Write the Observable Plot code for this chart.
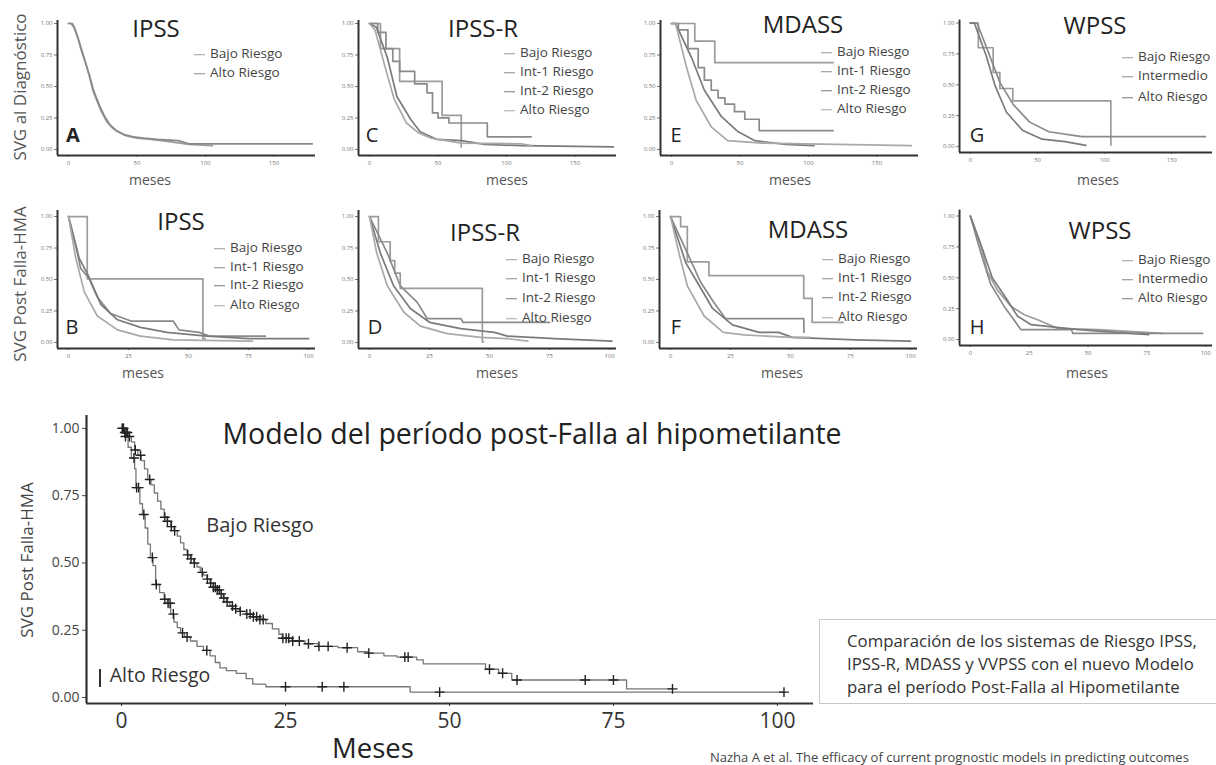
<!DOCTYPE html>
<html><head><meta charset="utf-8">
<script src="https://cdn.jsdelivr.net/npm/d3@7"></script>
<script src="https://cdn.jsdelivr.net/npm/@observablehq/plot@0.6"></script>
<style>
html,body{margin:0;padding:0;background:#fff;overflow:hidden}
#root{position:relative;width:1216px;height:765px;font-family:"Open Sans",sans-serif;color:#333;overflow:hidden;background:#fff}
.abs{position:absolute;white-space:nowrap;line-height:1}
.c{transform:translate(-50%,-50%)}
.v{transform:translate(-50%,-50%) rotate(-90deg)}
.l{transform:translate(0,-50%)}
.panel{position:absolute}
.panel svg{overflow:visible}
.sw{display:inline-block;width:11px;height:1.6px;vertical-align:middle;margin-right:5px}
</style></head><body><div id="root"></div>
<script>
// ---------- DATA ----------
const yTicks = [0, 0.25, 0.5, 0.75, 1];
const xTicksDx = [0, 50, 100, 150];
const xTicksPost = [0, 25, 50, 75, 100];
const xTicksMain = [0, 25, 50, 75, 100];

const legend2 = ["Bajo Riesgo", "Alto Riesgo"];
const legend4 = ["Bajo Riesgo", "Int-1 Riesgo", "Int-2 Riesgo", "Alto Riesgo"];
const legend3 = ["Bajo Riesgo", "Intermedio", "Alto Riesgo"];

// A: IPSS at diagnosis
const A_1 = [[0,1],[3,1],[5,0.95],[8,0.85],[10,0.78],[13,0.67],[16,0.55],[18,0.46],[21,0.38],[24,0.30],[28,0.22],[32,0.17],[36,0.14],[42,0.11],[50,0.09],[60,0.08],[75,0.06],[88,0.04],[105,0.03]];
const A_2 = [[0,1],[2,1],[4,0.97],[7,0.88],[9,0.80],[12,0.70],[15,0.60],[18,0.48],[20,0.42],[23,0.34],[26,0.27],[30,0.20],[35,0.15],[40,0.12],[47,0.10],[55,0.09],[65,0.08],[80,0.07],[88,0.045],[178,0.045]];
// C: IPSS-R at diagnosis
const C_1 = [[0,1],[8,0.80],[22,0.54],[53,0.27],[67,0.02]];
const C_2 = [[0,1],[6,0.93],[12,0.80],[17,0.70],[22,0.62],[33,0.52],[42,0.45],[46,0.29],[50,0.25],[58,0.21],[86,0.10],[118,0.10]];
const C_3 = [[0,1],[5,0.97],[13,0.73],[20,0.42],[30,0.24],[37,0.14],[49,0.08],[67,0.07],[84,0.04],[111,0.03],[178,0.02]];
const C_4 = [[0,1],[4,0.95],[11.5,0.65],[18,0.40],[27,0.21],[36,0.13],[45,0.09],[67,0.05],[111,0.045],[118,0.03]];
// E: MDASS at diagnosis
const E_1 = [[0,1],[17,0.86],[31.6,0.69],[118,0.69]];
const E_2 = [[0,1],[5,0.95],[12,0.80],[19.5,0.65],[24,0.55],[29,0.47],[34,0.41],[39,0.36],[46,0.30],[53.5,0.24],[64,0.15],[118,0.15]];
const E_3 = [[0,1],[3,1],[14.6,0.73],[24,0.47],[36.5,0.26],[48.7,0.14],[61,0.07],[83,0.04],[104,0.03]];
const E_4 = [[0,1],[3,1],[11,0.65],[18,0.39],[29,0.18],[41,0.07],[66,0.05],[175,0.03]];
// G: WPSS at diagnosis
const G_1 = [[0,1],[6,0.80],[17,0.60],[22,0.47],[31.6,0.37],[104.6,0.01]];
const G_2 = [[0,1],[5,1],[14.6,0.73],[22,0.52],[32,0.34],[44,0.20],[58.4,0.12],[83,0.08],[175,0.08]];
const G_3 = [[0,1],[3,1],[12,0.73],[18.2,0.50],[26.8,0.28],[39,0.13],[53.5,0.06],[70.5,0.04],[86,0.01]];
// B: IPSS post-failure
const B_1 = [[0,1],[7.8,0.505],[56,0.03],[57,0.03]];
const B_2 = [[0,1],[3.6,0.72],[5,0.59],[8.5,0.51],[12,0.36],[17.5,0.23],[26,0.17],[43.6,0.17],[46,0.10],[54.5,0.08],[58.6,0.05],[82,0.05]];
const B_3 = [[0,1],[4.4,0.67],[8,0.54],[13.5,0.30],[20.4,0.18],[30,0.12],[41,0.08],[57.6,0.05],[75,0.03],[100,0.03]];
const B_4 = [[0,1],[3,0.67],[6.6,0.40],[12,0.21],[20.4,0.10],[30,0.05],[43.6,0.02],[76.6,0.01]];
// D: IPSS-R post-failure
const D_1 = [[0,1],[3.7,0.80],[8.6,0.65],[10.5,0.55],[12.8,0.43],[47,0.005],[47.5,0.005]];
const D_2 = [[0,1],[7.4,0.71],[12.8,0.45],[19.8,0.32],[24,0.19],[38,0.19],[39,0.16],[75,0.16]];
const D_3 = [[0,1],[4.5,0.71],[10,0.45],[17,0.27],[25,0.16],[38,0.11],[52,0.08],[57.5,0.05],[77,0.03],[101,0.01]];
const D_4 = [[0,1],[3,0.71],[7.4,0.45],[14.3,0.24],[21.2,0.13],[32.4,0.07],[46.3,0.04],[57.5,0.03],[66,0.01]];
// F: MDASS post-failure
const F_1 = [[0,1],[4.2,0.92],[7,0.64],[16,0.53],[55.5,0.35],[59,0.16],[72,0.16]];
const F_2 = [[0,1],[7,0.71],[12.5,0.48],[18,0.32],[22.9,0.19],[55.5,0.19],[55.6,0.08]];
const F_3 = [[0,1],[6.4,0.63],[12,0.45],[17.5,0.27],[25.8,0.14],[36.9,0.08],[45,0.08],[50.8,0.04],[77,0.02],[100,0.01]];
const F_4 = [[0,1],[3.5,0.71],[7,0.45],[14,0.21],[22,0.08],[30.5,0.06],[50,0.04],[58,0.04]];
// H: WPSS post-failure
const H_1 = [[0,1],[4.3,0.77],[7.2,0.55],[11.5,0.40],[17.2,0.27],[22.9,0.20],[28.6,0.16],[37.2,0.09],[54.4,0.08],[81.5,0.05]];
const H_2 = [[0,1],[4.3,0.71],[8.6,0.45],[14.3,0.27],[21.5,0.08],[43,0.08],[43.5,0.05],[98.7,0.05]];
const H_3 = [[0,1],[5,0.74],[9.3,0.50],[15.7,0.32],[20,0.19],[25.8,0.12],[45.8,0.08],[75.8,0.04]];

// Main model: Kaplan-Meier steps [months, survival]
const bajoRiesgo = [[0,1],[0.5,0.985],[1,0.97],[1.5,0.95],[2,0.92],[2.5,0.90],[3,0.88],[3.5,0.85],[4,0.81],[4.5,0.79],[5,0.76],[5.5,0.73],[6,0.70],[6.5,0.67],[7,0.655],[7.5,0.635],[8,0.62],[8.5,0.60],[9,0.575],[9.5,0.55],[10,0.53],[10.5,0.515],[11,0.50],[11.5,0.485],[12,0.465],[12.5,0.455],[13,0.44],[13.5,0.425],[14,0.41],[14.5,0.40],[15,0.385],[15.5,0.37],[16,0.355],[16.5,0.34],[17,0.33],[18,0.32],[19,0.31],[20,0.30],[21,0.29],[22,0.275],[23,0.255],[24,0.235],[24.5,0.22],[26,0.21],[28,0.20],[30,0.19],[33,0.185],[36,0.17],[37.5,0.165],[40,0.155],[42,0.15],[45,0.14],[46,0.125],[55.5,0.105],[57.5,0.09],[59.5,0.065],[77,0.032],[84,0.032]];
const altoRiesgo = [[0,1],[0.5,0.97],[1,0.93],[1.5,0.89],[2,0.85],[2.2,0.78],[2.8,0.72],[3.2,0.68],[3.6,0.63],[4,0.57],[4.4,0.52],[4.8,0.49],[5.2,0.42],[5.8,0.39],[6.5,0.365],[7,0.35],[7.5,0.31],[8,0.28],[8.5,0.26],[9,0.24],[9.6,0.225],[10.5,0.21],[11.5,0.19],[12.5,0.175],[13.5,0.155],[14.3,0.13],[15,0.11],[16,0.10],[17.5,0.09],[19,0.07],[20,0.05],[22,0.04],[44,0.02],[101,0.02]];
const bajoCensor = [0.1,0.3,0.5,0.7,0.9,1.2,2.1,2.9,4.3,6.6,7.0,7.6,8.1,10.1,10.6,11.1,12.3,13.1,13.6,14.0,14.3,14.6,14.9,15.2,15.6,16.1,16.9,17.4,18.1,19.1,19.6,20.1,20.6,21.1,21.6,24.6,25.1,25.5,26.1,27.1,28.5,30.1,31.5,34.4,37.7,43.2,43.7,56.1,58.1,60.3,70.7,75.0,84.0];
const altoCensor = [0.2,0.6,1.9,2.3,2.6,3.4,4.7,5.3,6.6,7.1,7.4,7.9,9.3,10.0,13.0,25.0,30.6,33.9,48.5,101];

const mainTitle = "Modelo del período post-Falla al hipometilante";
const boxLines = ["Comparación de los sistemas de Riesgo IPSS,", "IPSS-R, MDASS y VVPSS con el nuevo Modelo", "para el período Post-Falla al Hipometilante"];
const citation = "Nazha A et al. The efficacy of current prognostic models in predicting outcomes";

// ---------- LAYOUT ----------
const root = document.getElementById("root");
function txt(s, x, y, cls, css) {
  const d = document.createElement("div");
  d.className = "abs " + cls; d.textContent = s;
  d.style.left = x + "px"; d.style.top = y + "px";
  Object.assign(d.style, css || {});
  root.appendChild(d); return d;
}
const greys = ["#9b9b9b", "#8a8a8a", "#7b7b7b", "#a9a9a9"];
const rows = [
  {top: 0, mt: 20, ih: 135, yd: [-0.048, 1.024], xd: [-8.03, 180.3], xt: xTicksDx, mesesY: 180, letterY: 135},
  {top: 190, mt: 20, ih: 138, yd: [-0.048, 1.048], xd: [-4.6, 102.9], xt: xTicksPost, mesesY: 373, letterY: 327}
];
const panels = [
  {row:0, x0:57,  title:"IPSS",   tx:156,  ty:28,  letter:"A", lx:73,  bold:true, series:[A_1,A_2], curves:["linear","linear"], legend:legend2, legX:210, legY:[54,73], mx:150},
  {row:0, x0:358, title:"IPSS-R", tx:483,  ty:28,  letter:"C", lx:372, series:[C_1,C_2,C_3,C_4], curves:["step-after","step-after","linear","linear"], legend:legend4, legX:520, legY:[53,72,91,110], mx:507},
  {row:0, x0:660, title:"MDASS",  tx:803,  ty:24,  letter:"E", lx:676, series:[E_1,E_2,E_3,E_4], curves:["step-after","step-after","linear","linear"], legend:legend4, legX:837, legY:[52,71,90,109], mx:790},
  {row:0, x0:960, title:"WPSS",   tx:1095, ty:25,  letter:"G", lx:977, series:[G_1,G_2,G_3], curves:["step-after","linear","linear"], legend:legend3, legX:1138, legY:[57,76,97], mx:1098},
  {row:1, x0:57,  title:"IPSS",   tx:181,  ty:221, letter:"B", lx:72,  series:[B_1,B_2,B_3,B_4], curves:["step-after","linear","linear","linear"], legend:legend4, legX:230, legY:[248,267,285,305], mx:143},
  {row:1, x0:358, title:"IPSS-R", tx:485,  ty:232, letter:"D", lx:375, series:[D_1,D_2,D_3,D_4], curves:["step-after","linear","linear","linear"], legend:legend4, legX:522, legY:[259,278,298,318], mx:497},
  {row:1, x0:659, title:"MDASS",  tx:808,  ty:229, letter:"F", lx:676, series:[F_1,F_2,F_3,F_4], curves:["step-after","linear","linear","linear"], legend:legend4, legX:838, legY:[259,278,297,317], mx:782},
  {row:1, x0:960, title:"WPSS",   tx:1100, ty:230, letter:"H", lx:977, series:[H_1,H_2,H_3], curves:["linear","linear","linear"], legend:legend3, legX:1138, legY:[260,279,298], mx:1087}
];

const ML = 50, MR = 4, MB = 22, AXLEN = 258;
for (const p of panels) {
  const r = rows[p.row];
  const chart = Plot.plot({
    width: ML + AXLEN + MR, height: r.mt + r.ih + MB,
    marginLeft: ML, marginRight: MR, marginTop: r.mt, marginBottom: MB,
    x: {domain: r.xd}, y: {domain: r.yd},
    style: {background: "transparent", fontFamily: "Open Sans", overflow: "visible"},
    marks: [
      Plot.axisY({ticks: yTicks, tickFormat: d3.format(".2f"), tickSize: 3, tickPadding: 2, fontSize: 6, color: "#777", label: null}),
      Plot.axisX({ticks: r.xt, tickSize: 2, tickPadding: 3, fontSize: 6, color: "#777", label: null}),
      ...p.series.map((s, i) => Plot.line(s, {x: d => d[0], y: d => d[1], curve: p.curves[i], stroke: greys[i], strokeWidth: 1.7})),
      Plot.ruleX([r.xd[0]], {stroke: "#333", strokeWidth: 2}),
      Plot.ruleY([r.yd[0]], {stroke: "#333", strokeWidth: 2})
    ]
  });
  const div = document.createElement("div");
  div.className = "panel";
  div.style.left = (p.x0 - ML) + "px"; div.style.top = r.top + "px";
  div.appendChild(chart); root.appendChild(div);

  txt(p.title, p.tx, p.ty, "c", {fontSize: "24px", color: "#222"});
  txt(p.letter, p.lx, r.letterY, "c", {fontSize: "20px", color: "#222", fontWeight: p.bold ? "700" : "400"});
  txt("meses", p.mx, r.mesesY, "c", {fontSize: "14px", color: "#555"});
  p.legend.forEach((lab, i) => {
    const d = txt("", p.legX - 16, p.legY[i], "l", {fontSize: "13.5px", color: "#444"});
    const sw = document.createElement("span"); sw.className = "sw"; sw.style.background = greys[i];
    d.appendChild(sw); d.appendChild(document.createTextNode(lab));
  });
}
txt("SVG al Diagnóstico", 19, 87, "v", {fontSize: "17px", color: "#555"});
txt("SVG Post Falla-HMA", 19, 284, "v", {fontSize: "17px", color: "#555"});

// ---------- MAIN PLOT ----------
function survAt(curve, t) {
  let s = curve[0][1];
  for (const [ti, si] of curve) { if (ti <= t) s = si; else break; }
  return s;
}
const bajoMarks = bajoCensor.map(t => ({t, s: survAt(bajoRiesgo, t)}));
const altoMarks = altoCensor.map(t => ({t, s: survAt(altoRiesgo, t)}));
const main = Plot.plot({
  width: 830, height: 365, marginLeft: 86, marginRight: 17, marginTop: 15, marginBottom: 62,
  x: {domain: [-5.34, 105.5]}, y: {domain: [-0.0223, 1.048]},
  style: {background: "transparent", fontFamily: "Open Sans", overflow: "visible"},
  marks: [
    Plot.axisY({ticks: yTicks, tickFormat: d3.format(".2f"), fontSize: 14, tickSize: 4, tickPadding: 3, color: "#444", label: null}),
    Plot.axisX({ticks: xTicksMain, fontSize: 21, tickSize: 3, tickPadding: 7, color: "#333", label: null}),
    Plot.line(bajoRiesgo, {x: d => d[0], y: d => d[1], curve: "step-after", stroke: "#777", strokeWidth: 1.3}),
    Plot.line(altoRiesgo, {x: d => d[0], y: d => d[1], curve: "step-after", stroke: "#777", strokeWidth: 1.3}),
    Plot.dot(bajoMarks, {x: "t", y: "s", symbol: "plus", r: 3.3, stroke: "#222", strokeWidth: 1.4}),
    Plot.dot(altoMarks, {x: "t", y: "s", symbol: "plus", r: 3.3, stroke: "#222", strokeWidth: 1.4}),
    Plot.ruleX([-5.34], {stroke: "#333", strokeWidth: 2.2}),
    Plot.ruleY([-0.0223], {stroke: "#333", strokeWidth: 2.2})
  ]
});
const md = document.createElement("div");
md.className = "panel"; md.style.left = "0px"; md.style.top = "400px";
md.appendChild(main); root.appendChild(md);

txt(mainTitle, 532, 433, "c", {fontSize: "28.5px", color: "#222"});
txt("Meses", 373, 748, "c", {fontSize: "27.5px", color: "#222"});
txt("SVG Post Falla-HMA", 26, 560, "v", {fontSize: "17px", color: "#444"});
txt("Bajo Riesgo", 260, 525, "c", {fontSize: "20px", color: "#333"});
txt("Alto Riesgo", 160, 675, "c", {fontSize: "19.5px", color: "#333"});
const bar = document.createElement("div");
Object.assign(bar.style, {position: "absolute", left: "99px", top: "669px", width: "2.2px", height: "18px", background: "#333"});
root.appendChild(bar);

const box = document.createElement("div");
Object.assign(box.style, {position: "absolute", left: "819px", top: "619px", width: "420px", height: "85px", border: "1px solid #c8c8c8", boxSizing: "border-box"});
root.appendChild(box);
boxLines.forEach((s, i) => txt(s, 847, 641 + i * 23, "l", {fontSize: "16.8px", color: "#333"}));
txt(citation, 710, 757, "l", {fontSize: "13px", color: "#444"});
</script></body></html>
